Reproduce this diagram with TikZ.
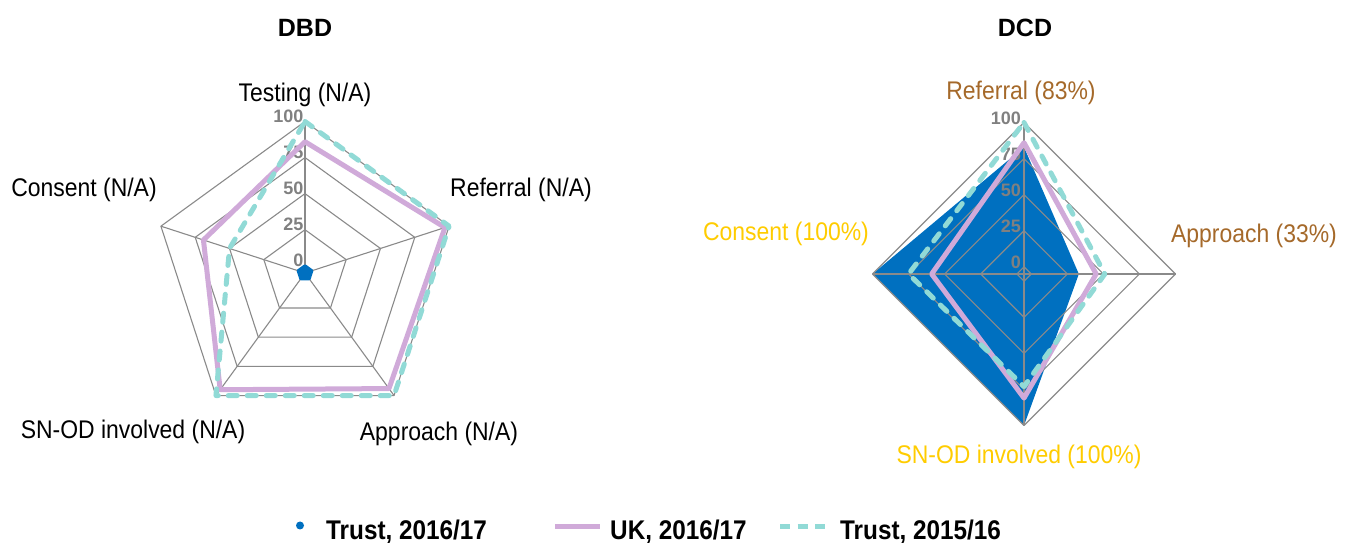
\documentclass[tikz,border=0pt]{standalone}
\usepackage{fontspec}
\setmainfont{Liberation Sans}
\newfontfamily\condfont{Liberation Sans}[FakeStretch=0.9]
\usetikzlibrary{calc}
\definecolor{tblue}{HTML}{0070C0}
\definecolor{ukpurple}{HTML}{D0AAD9}
\definecolor{tteal}{HTML}{91DAD6}
\definecolor{gridgrey}{HTML}{8A8A8A}
\definecolor{ticktext}{HTML}{808080}
\definecolor{brownlab}{HTML}{A5692A}
\definecolor{goldlab}{HTML}{FFCC00}
\begin{document}
\begin{tikzpicture}[x=1pt,y=1pt,
  gridline/.style={draw=gridgrey,line width=1.1pt,line join=round},
  ukline/.style={draw=ukpurple,line width=5pt,line join=round},
  tealline/.style={draw=tteal,line width=5pt,line cap=round,line join=round,dash pattern=on 9pt off 10pt},
  bluefill/.style={fill=tblue,draw=tblue,line join=round},
  charttitle/.style={font=\fontsize{25}{29}\selectfont\bfseries,inner sep=0pt},
  axlabel/.style={font=\condfont\fontsize{25.5}{29}\selectfont,inner sep=0pt},
  ticklab/.style={font=\fontsize{18}{21}\selectfont\bfseries,text=ticktext,inner sep=0pt,anchor=east},
  legtext/.style={font=\condfont\fontsize{27}{31}\selectfont\bfseries,inner sep=0pt,anchor=base west}]
\useasboundingbox (0,0) rectangle (1351,543);
\def\k{1.442857}
% centres
\coordinate (L) at (305,270);
\coordinate (R) at (1024,269);

% ===== titles
\node[charttitle] (tDBD) at (305,515) {DBD};
\node[charttitle] (tDCD) at (1025,515) {DCD};

% ===== LEFT chart (pentagon)
\foreach \v in {0,25,50,75,100}{
  \draw[gridline] ($(L)+(90:{(\v+5)*\k})$)
    \foreach \a in {18,-54,-126,162}{ -- ($(L)+(\a:{(\v+5)*\k})$) } -- cycle;
}
\foreach \a in {90,18,-54,-126,162}
  \draw[gridline] (L) -- ($(L)+(\a:{105*\k})$);
\foreach \v in {0,25,50,75,100}
  \node[ticklab] (lt\v) at ($(L)+(90:{(\v+5)*\k})+(-1.5,5)$) {\v};
% blue series (all zero)
\foreach \v [count=\i] in {0,0,0,0,0}
  \coordinate (Lb\i) at ($(L)+({90-72*(\i-1)}:{(\v+5)*\k})$);
\draw[bluefill,line width=3pt] (Lb1)--(Lb2)--(Lb3)--(Lb4)--(Lb5)--cycle;
% UK
\foreach \v [count=\i] in {86,97,94,95,69}
  \coordinate (Lu\i) at ($(L)+({90-72*(\i-1)}:{(\v+5)*\k})$);
\draw[ukline] (Lu1)--(Lu2)--(Lu3)--(Lu4)--(Lu5)--cycle;
% Trust 2015/16
\foreach \v [count=\i] in {100,100,100,100,50}
  \coordinate (Lt\i) at ($(L)+({90-72*(\i-1)}:{(\v+5)*\k})$);
\draw[tealline] (Lt1)--(Lt2)--(Lt3)--(Lt4)--(Lt5)--cycle;
% axis labels
\node[axlabel] (lTest) at (305,448) {Testing (N/A)};
\node[axlabel] (lRef) at (521,353) {Referral (N/A)};
\node[axlabel] (lCons) at (84,353) {Consent (N/A)};
\node[axlabel] (lSN) at (133,111) {SN-OD involved (N/A)};
\node[axlabel] (lApp) at (439,109) {Approach (N/A)};

% ===== RIGHT chart (diamond)
\foreach \v [count=\i] in {83,33,100,100}
  \coordinate (Rb\i) at ($(R)+({90-90*(\i-1)}:{(\v+5)*\k})$);
\fill[tblue] (Rb1)--(Rb2)--(Rb3)--(Rb4)--cycle;
\foreach \v in {0,25,50,75,100}{
  \draw[gridline] ($(R)+(90:{(\v+5)*\k})$)
    \foreach \a in {0,-90,180}{ -- ($(R)+(\a:{(\v+5)*\k})$) } -- cycle;
}
\foreach \a in {90,0,-90,180}
  \draw[gridline] (R) -- ($(R)+(\a:{105*\k})$);
\foreach \v in {0,25,50,75,100}
  \node[ticklab] (rt\v) at ($(R)+(90:{(\v+5)*\k})+(-3,4)$) {\v};
\foreach \v [count=\i] in {86,45,81,59}
  \coordinate (Ru\i) at ($(R)+({90-90*(\i-1)}:{(\v+5)*\k})$);
\draw[ukline] (Ru1)--(Ru2)--(Ru3)--(Ru4)--cycle;
\foreach \v [count=\i] in {100,51,73,75}
  \coordinate (Rt\i) at ($(R)+({90-90*(\i-1)}:{(\v+5)*\k})$);
\draw[tealline] (Rt1)--(Rt2)--(Rt3)--(Rt4)--cycle;
\node[axlabel,text=brownlab] (rRef) at (1021,450) {Referral (83\%)};
\node[axlabel,text=brownlab] (rApp) at (1254,307) {Approach (33\%)};
\node[axlabel,text=goldlab] (rCons) at (786,309) {Consent (100\%)};
\node[axlabel,text=goldlab] (rSN) at (1019,86) {SN-OD involved (100\%)};

% ===== legend
\fill[tblue] (300,17.5) circle (4);
\node[legtext] (lg1) at (326,3) {Trust, 2016/17};
\coordinate (pl1) at (555,16);
\coordinate (pl2) at (600,16);
\draw[draw=ukpurple,line width=5pt] (pl1) -- (pl2);
\node[legtext] (lg2) at (610,3) {UK, 2016/17};
\coordinate (tl1) at (780,16);
\coordinate (tl2) at (825,16);
\draw[draw=tteal,line width=5pt,dash pattern=on 10pt off 7.5pt] (tl1) -- (tl2);
\node[legtext] (lg3) at (840,3) {Trust, 2015/16};
\end{tikzpicture}
\end{document}
